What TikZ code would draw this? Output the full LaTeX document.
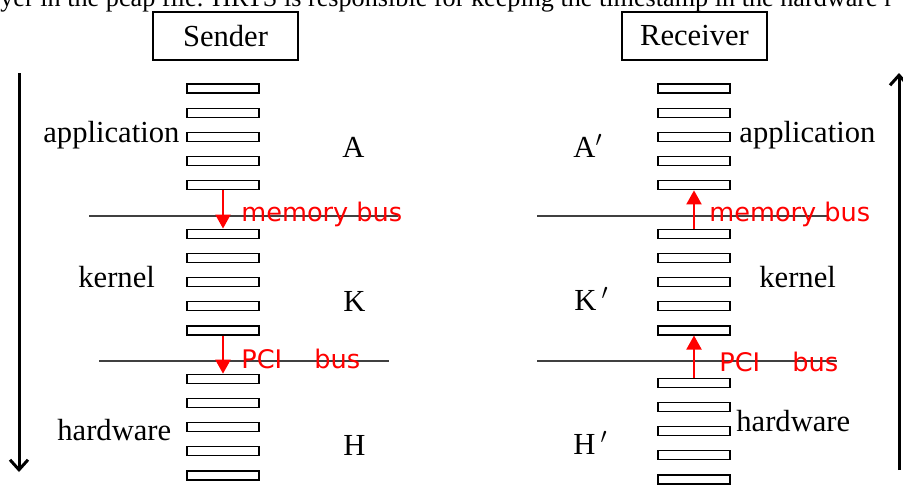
\documentclass[tikz,border=0pt]{standalone}
\usepackage{fontspec}
\setmainfont{Liberation Serif}
\newfontfamily\busfont{DejaVu Sans}
\usetikzlibrary{arrows.meta}

\begin{document}
\begin{tikzpicture}[x=0.5pt,y=-0.5pt,
                    thin,
                    slat/.style={rectangle,draw,line width=0.6pt,minimum width=36pt,minimum height=4.5pt,inner sep=0pt},
                    title node/.style={rectangle,draw,line width=0.7pt,minimum width=72.5pt,minimum height=24pt,font=\fontsize{15.3}{18}\selectfont},
                    layer node/.style={anchor=base west,inner sep=0pt,font=\fontsize{15.3}{18}\selectfont},
                    bus node/.style={anchor=base west,inner sep=0pt,text=red,font=\busfont\fontsize{12.8}{15}\selectfont},
                    bus line/.style={draw=black!75,line width=0.6pt},
                    bus arrow/.style={draw=red,line width=1pt,-{Triangle[length=7pt,width=7.5pt]}},
                    flow/.style={line width=1.5pt,-{Straight Barb[length=5pt,width=9pt]}}]
  \useasboundingbox (0,0) rectangle (903,494);
  \clip (0,0) rectangle (903,494);

  % last line of the paragraph above
  \node[layer node,font=\fontsize{13.1}{16}\selectfont] (para) at (0,6) {yer in the pcap file. HRTS is responsible for keeping the timestamp in the hardware r};

  \node[title node] (sender) at (225.5,36) {Sender};
  \node[title node] (receiver) at (694.5,36) {Receiver};

  % protocol stacks
  \foreach \i in {0,...,4,6,7,8,9,10,12,13,14,15,16} {
    \node[slat] (s\i) at (223,88.5+\i*24.19) {};
  }
  \foreach \i in {0,...,4,6,7,8,9,10} {
    \node[slat] (r\i) at (694,88.5+\i*24.19) {};
  }
  \foreach \i in {12,...,16} {
    \node[slat] (r\i) at (694,92.5+\i*24.19) {};
  }

  % buses
  \draw[bus line] (89,216) -- (398,216);
  \draw[bus line] (99,361) -- (389,361);
  \draw[bus line] (537,216) -- (827,216);
  \draw[bus line] (537,361) -- (837,361);

  \draw[bus arrow] (s4.south) -- (s6.north);
  \draw[bus arrow] (s10.south) -- (s12.north);
  \draw[bus arrow] (r6.north) -- (r4.south);
  \draw[bus arrow] (r12.north) -- (r10.south);

  \node[bus node] (smem) at (241,221) {memory bus};
  \node[bus node] (spci) at (241,368) {PCI\hspace{16pt}bus};
  \node[bus node] (rmem) at (709,221) {memory bus};
  \node[bus node] (rpci) at (719,371) {PCI\hspace{16pt}bus};

  % layer names
  \node[layer node] (sapp) at (43,142) {application};
  \node[layer node] (sker) at (78,287) {kernel};
  \node[layer node] (shw) at (57,440) {hardware};
  \node[layer node] (rapp) at (739,142) {application};
  \node[layer node] (rker) at (759,287) {kernel};
  \node[layer node] (rhw) at (736,431) {hardware};

  \node[layer node] (A) at (342,157) {A};
  \node[layer node] (K) at (343,311) {K};
  \node[layer node] (H) at (343,455) {H};
  \node[layer node] (A2) at (573,157) {A$'$};
  \node[layer node] (K2) at (574,310) {K\,$'$};
  \node[layer node] (H2) at (573,454) {H\,$'$};

  % direction of travel
  \coordinate (down top) at (19,73);
  \coordinate (down end) at (19,472);
  \coordinate (up bottom) at (899,470);
  \coordinate (up end) at (899,73);
  \draw[flow] (down top) -- (down end);
  \draw[flow] (up bottom) -- (up end);
\end{tikzpicture}
\end{document}
